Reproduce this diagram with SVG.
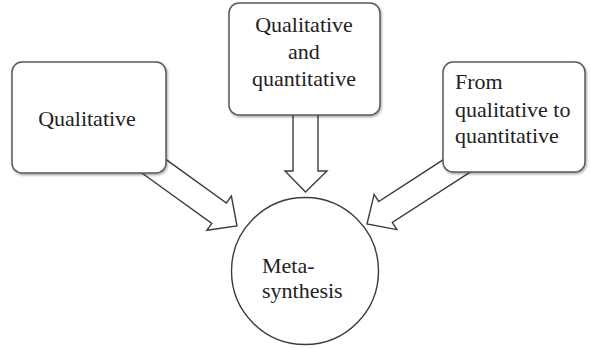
<svg xmlns="http://www.w3.org/2000/svg" width="591" height="349" viewBox="0 0 591 349">
  <style>
    .box { fill: #ffffff; stroke: #5a5a5a; stroke-width: 1.5; filter: url(#shadow); }
    .arrow { fill: #ffffff; stroke: #3c3c3c; stroke-width: 1.4; stroke-linejoin: miter; }
    .circle { fill: #ffffff; stroke: #3c3c3c; stroke-width: 1.4; }
    .label { font-family: "Liberation Serif", "Times New Roman", serif; font-size: 22px; fill: #222222; }
  </style>
  <defs>
    <filter id="shadow" x="-10%" y="-10%" width="125%" height="130%">
      <feDropShadow dx="1" dy="1.5" stdDeviation="1.2" flood-color="#000000" flood-opacity="0.35"/>
    </filter>
  </defs>
  <rect width="591" height="349" fill="#ffffff"/>

  <!-- block arrows, drawn first so the boxes cover their tails -->
  <g id="connectors">
    <polygon class="arrow" points="136.3,169.0 211.8,223.4 206.8,230.3 237,226 231.4,196.1 226.4,203.0 150.9,148.6"/>
    <polygon class="arrow" points="293,95 293,171 285,171 305.5,192 327,171 318,171 318,95"/>
    <polygon class="arrow" points="472.9,170.3 392.3,222.5 396.9,229.6 367,224 374.1,194.4 378.7,201.5 459.3,149.3"/>
  </g>

  <g id="node-qualitative">
    <rect class="box" x="12" y="62" width="154" height="111" rx="10" ry="10"/>
    <text class="label" x="87" y="126" text-anchor="middle">Qualitative</text>
  </g>

  <g id="node-qual-and-quant">
    <rect class="box" x="229" y="3" width="151" height="112" rx="10" ry="10"/>
    <text class="label" x="304" y="32" text-anchor="middle">Qualitative</text>
    <text class="label" x="304" y="59" text-anchor="middle">and</text>
    <text class="label" x="304" y="86" text-anchor="middle">quantitative</text>
  </g>

  <g id="node-qual-to-quant">
    <rect class="box" x="443" y="62" width="142" height="110" rx="10" ry="10"/>
    <text class="label" x="455" y="89">From</text>
    <text class="label" x="455" y="117">qualitative to</text>
    <text class="label" x="455" y="143">quantitative</text>
  </g>

  <g id="node-meta-synthesis">
    <circle class="circle" cx="305" cy="271" r="73.5"/>
    <text class="label" x="262" y="273">Meta-</text>
    <text class="label" x="262" y="298">synthesis</text>
  </g>
</svg>
